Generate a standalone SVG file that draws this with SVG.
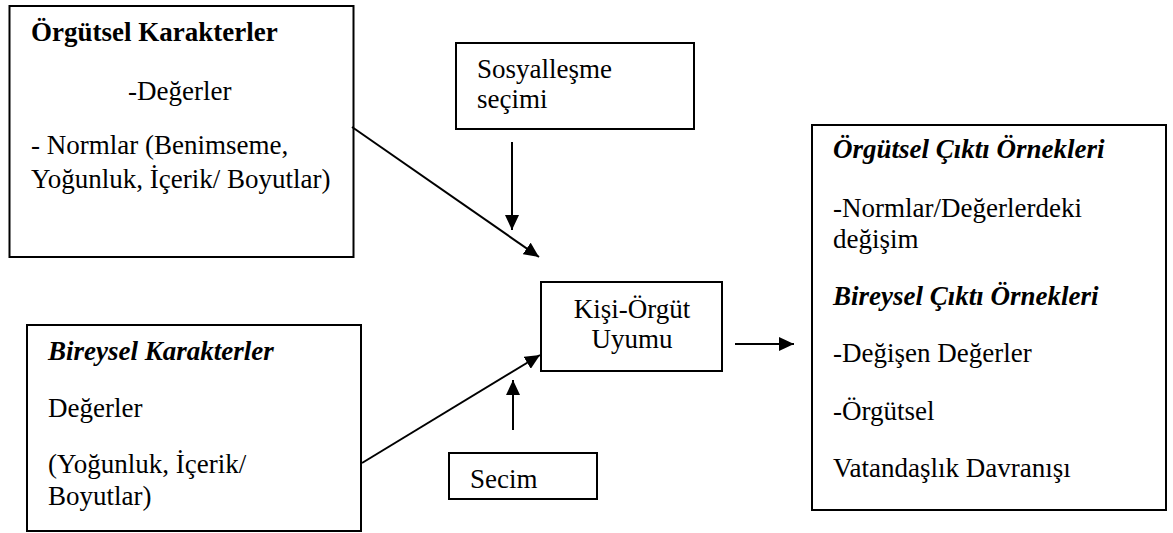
<svg xmlns="http://www.w3.org/2000/svg" width="1173" height="533" viewBox="0 0 1173 533">
  <style>
    .box { fill: #ffffff; stroke: #000000; stroke-width: 2; }
    .conn { stroke: #000000; stroke-width: 2; fill: none; marker-end: url(#arrow); }
  </style>
  <defs>
    <marker id="arrow" markerUnits="userSpaceOnUse" markerWidth="16" markerHeight="14" refX="15" refY="7" orient="auto">
      <path d="M0,0 L15,7 L0,14 Z" fill="#000000"/>
    </marker>
  </defs>
  <rect width="1173" height="533" fill="#ffffff"/>

  <g font-family="Liberation Serif, Times New Roman, Times, serif" font-size="27" fill="#000000">
    <g id="orgutsel-karakterler">
      <rect class="box" x="9.5" y="6" width="344" height="251"/>
      <text x="31" y="41" font-weight="bold">Örgütsel Karakterler</text>
      <text x="128" y="100">-Değerler</text>
      <text x="31" y="154">- Normlar (Benimseme,</text>
      <text x="31" y="188">Yoğunluk, İçerik/ Boyutlar)</text>
    </g>

    <g id="bireysel-karakterler">
      <rect class="box" x="27" y="325" width="334" height="206"/>
      <text x="48" y="360" font-weight="bold" font-style="italic">Bireysel Karakterler</text>
      <text x="48" y="417">Değerler</text>
      <text x="48" y="473">(Yoğunluk, İçerik/</text>
      <text x="48" y="505">Boyutlar)</text>
    </g>

    <g id="sosyallesme-secimi">
      <rect class="box" x="456" y="43" width="238" height="86"/>
      <text x="477" y="78">Sosyalleşme</text>
      <text x="477" y="108">seçimi</text>
    </g>

    <g id="kisi-orgut-uyumu">
      <rect class="box" x="541" y="282" width="181" height="89"/>
      <text x="632" y="318" text-anchor="middle">Kişi-Örgüt</text>
      <text x="632" y="348" text-anchor="middle">Uyumu</text>
    </g>

    <g id="secim">
      <rect class="box" x="449" y="453" width="148" height="46"/>
      <text x="470" y="488">Secim</text>
    </g>

    <g id="cikti-ornekleri">
      <rect class="box" x="812" y="125" width="354" height="385"/>
      <text x="833" y="158" font-weight="bold" font-style="italic">Örgütsel Çıktı Örnekleri</text>
      <text x="833" y="217">-Normlar/Değerlerdeki</text>
      <text x="833" y="248">değişim</text>
      <text x="833" y="305" font-weight="bold" font-style="italic">Bireysel Çıktı Örnekleri</text>
      <text x="833" y="362">-Değişen Değerler</text>
      <text x="833" y="420">-Örgütsel</text>
      <text x="833" y="477">Vatandaşlık Davranışı</text>
    </g>
  </g>

  <g id="connectors">
    <line class="conn" x1="352" y1="127" x2="539" y2="257"/>
    <line class="conn" x1="512" y1="142" x2="512" y2="230"/>
    <line class="conn" x1="362" y1="463" x2="540" y2="355"/>
    <line class="conn" x1="513" y1="430" x2="513" y2="380"/>
    <line class="conn" x1="735" y1="344" x2="794" y2="344"/>
  </g>
</svg>
